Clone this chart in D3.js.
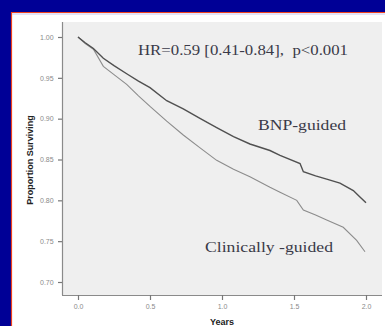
<!DOCTYPE html>
<html>
<head>
<meta charset="utf-8">
<script src="https://cdn.jsdelivr.net/npm/d3@7"></script>
<style>
  body { margin: 0; background: #000096; }
  svg { display: block; }
</style>
</head>
<body>
<svg id="chart"></svg>
<script>
let w = 385;
let h = 326;

// survival curves (years, proportion surviving)
const bnpYears = [0, 0.05, 0.107, 0.176, 0.25, 0.338, 0.42, 0.5, 0.616, 0.731, 0.85, 0.963, 1.08, 1.194, 1.333, 1.403, 1.542, 1.565, 1.65, 1.727, 1.819, 1.912, 1.958, 2.0];
const bnpSurv = [1.0, 0.993, 0.986, 0.974, 0.965, 0.955, 0.946, 0.938, 0.922, 0.912, 0.900, 0.889, 0.878, 0.869, 0.861, 0.855, 0.845, 0.835, 0.830, 0.826, 0.821, 0.812, 0.804, 0.797];
const clinYears = [0, 0.05, 0.107, 0.176, 0.25, 0.338, 0.42, 0.5, 0.616, 0.731, 0.85, 0.963, 1.08, 1.194, 1.333, 1.403, 1.519, 1.565, 1.65, 1.727, 1.842, 1.935, 1.993];
const clinSurv = [1.0, 0.992, 0.985, 0.964, 0.954, 0.942, 0.928, 0.915, 0.897, 0.880, 0.864, 0.849, 0.838, 0.829, 0.816, 0.810, 0.800, 0.788, 0.782, 0.776, 0.767, 0.751, 0.737];
const xTicks = [0, 0.5, 1.0, 1.5, 2.0];
const yTicks = [0.70, 0.75, 0.80, 0.85, 0.90, 0.95, 1.00];
const seriesNames = ['BNP-guided', 'Clinically -guided'];
const hrText = 'HR=0.59 [0.41-0.84],  p<0.001';

const svg = d3.select('#chart')
    .attr('width', w)
    .attr('height', h);

// white slide panel with the red edge
svg.append('rect')
    .attr('x', 11).attr('y', 12)
    .attr('width', w - 11).attr('height', h - 12)
    .attr('fill', '#fff');
svg.append('path')
    .attr('d', `M11.5,${h} V12.5 H${w}`)
    .attr('fill', 'none')
    .attr('stroke', '#f0401c')
    .attr('stroke-width', 1.2);
svg.append('line')
    .attr('x1', 12).attr('x2', w)
    .attr('y1', 14).attr('y2', 14)
    .attr('stroke', '#c8c8f0');

// plot frame
const pLeft = 62, pTop = 22, pRight = 382, pBottom = 295;

const xScale = d3.scaleLinear().domain([0, 2]).range([78, 366]);
const yScale = d3.scaleLinear().domain([0.70, 1.00]).range([282, 37]);

svg.append('rect')
    .attr('x', pLeft).attr('y', pTop)
    .attr('width', pRight - pLeft).attr('height', pBottom - pTop)
    .attr('fill', '#efefef');

const xAxis = d3.axisBottom(xScale)
    .tickValues(xTicks)
    .tickSize(5)
    .tickFormat(d3.format('.1f'));
const yAxis = d3.axisLeft(yScale)
    .tickValues(yTicks)
    .tickSize(4)
    .tickFormat(d3.format('.2f'));

const xg = svg.append('g')
    .attr('transform', `translate(0,${pBottom})`)
    .call(xAxis);
const yg = svg.append('g')
    .attr('transform', `translate(${pLeft},0)`)
    .call(yAxis);

xg.select('.domain').attr('d', `M${pLeft},0.5H${pRight}`);
yg.select('.domain').attr('d', `M0.5,${pTop}V${pBottom}`);

[xg, yg].forEach(g => {
    g.selectAll('.domain').attr('stroke', '#8a8a8a').attr('stroke-width', 1.2);
    g.selectAll('.tick line').attr('stroke', '#777').attr('stroke-width', 1.2);
    g.selectAll('text')
        .attr('fill', '#8a8a8a')
        .attr('font-family', 'Liberation Sans, Arial, sans-serif')
        .attr('font-size', 7);
});
xg.selectAll('text').attr('dy', '0.85em');
yg.selectAll('text').attr('dx', '-0.2em');

// curves
const line = d3.line()
    .x(d => xScale(d[0]))
    .y(d => yScale(d[1]));

const clinData = clinYears.map((t, i) => [t, clinSurv[i]]);
const bnpData = bnpYears.map((t, i) => [t, bnpSurv[i]]);

svg.append('path')
    .datum(clinData)
    .attr('d', line)
    .attr('fill', 'none')
    .attr('stroke', '#8c8c8c')
    .attr('stroke-width', 1.1);

svg.append('path')
    .datum(bnpData)
    .attr('d', line)
    .attr('fill', 'none')
    .attr('stroke', '#505050')
    .attr('stroke-width', 1.4);

// annotations
const serif = 'Palatino Linotype, Book Antiqua, Liberation Serif, serif';
const addLabel = (txt, x, y, len) => {
    svg.append('text')
        .attr('x', x).attr('y', y)
        .attr('font-family', serif)
        .attr('font-size', 15)
        .attr('fill', '#3a3a48')
        .attr('textLength', len)
        .attr('lengthAdjust', 'spacingAndGlyphs')
        .style('white-space', 'pre')
        .text(txt);
};
addLabel(hrText, 138, 55, 210);
addLabel(seriesNames[0], 258, 130, 88);
addLabel(seriesNames[1], 205, 252, 128);

// axis titles
svg.append('text')
    .attr('transform', `translate(33,160) rotate(-90)`)
    .attr('text-anchor', 'middle')
    .attr('font-family', 'Liberation Sans, Arial, sans-serif')
    .attr('font-weight', 'bold')
    .attr('font-size', 9)
    .attr('fill', '#222')
    .text('Proportion Surviving');

svg.append('text')
    .attr('x', 222).attr('y', 325)
    .attr('text-anchor', 'middle')
    .attr('font-family', 'Liberation Sans, Arial, sans-serif')
    .attr('font-weight', 'bold')
    .attr('font-size', 9)
    .attr('fill', '#222')
    .text('Years');
</script>
</body>
</html>
